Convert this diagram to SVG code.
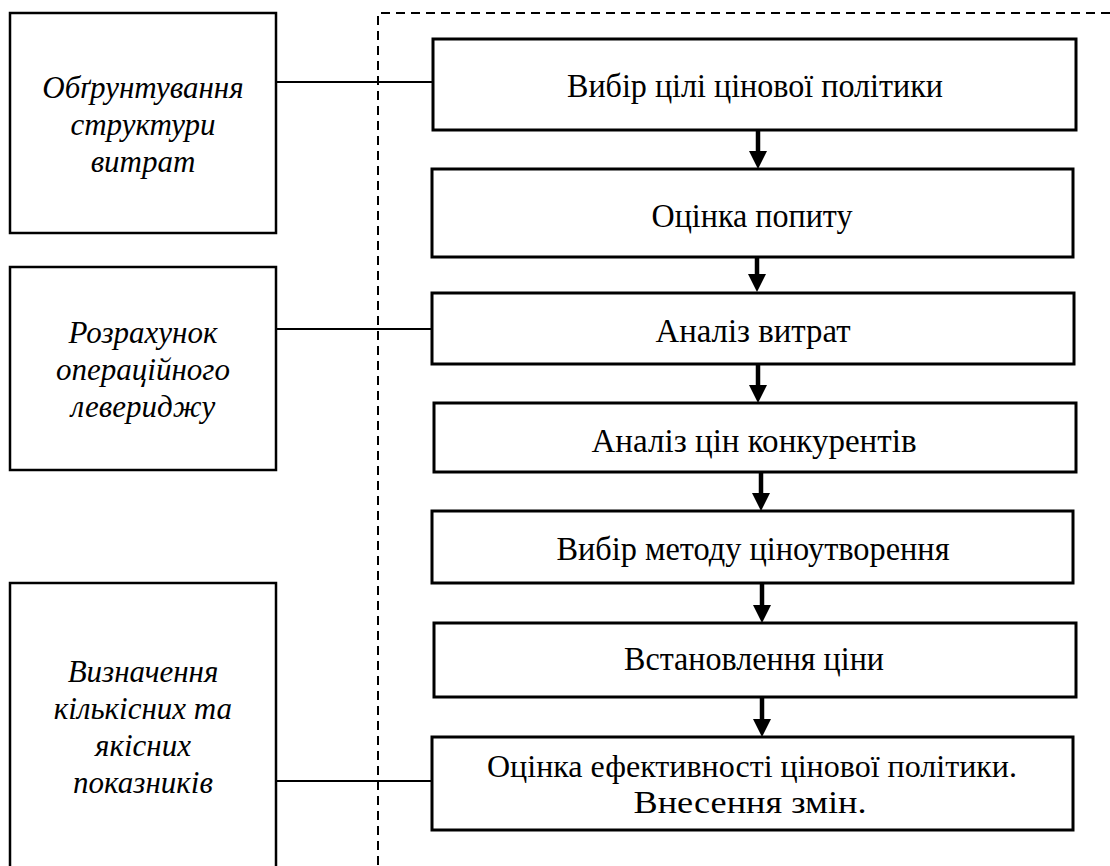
<svg xmlns="http://www.w3.org/2000/svg" width="1110" height="866" viewBox="0 0 1110 866">
<style>
.box{fill:#fff;stroke:#000;stroke-width:3}
.lbox{fill:#fff;stroke:#000;stroke-width:2.5}
.t{font-family:"Liberation Serif","Times New Roman",serif;font-size:34px;fill:#000;text-anchor:middle}
.t2{font-family:"Liberation Serif","Times New Roman",serif;font-size:31px;fill:#000;text-anchor:middle}
.it{font-family:"Liberation Serif","Times New Roman",serif;font-size:31px;font-style:italic;fill:#000;text-anchor:middle}
.ln{stroke:#000;stroke-width:2;fill:none}
.ar{stroke:#000;stroke-width:4.5;fill:none}
.dash{stroke:#000;stroke-width:2;fill:none;stroke-dasharray:9 6}
</style>
<rect width="1110" height="866" fill="#fff"/>
<g id="frame"><path class="dash" d="M378,880 V13 H1120"/></g>
<g id="connectors">
<line class="ln" x1="276" y1="82" x2="433" y2="82"/>
<line class="ln" x1="276" y1="329" x2="432" y2="329"/>
<line class="ln" x1="276" y1="781" x2="432" y2="781"/>
<line class="ar" x1="758" y1="130" x2="758" y2="153"/><polygon points="749,151 767,151 758,169"/>
<line class="ar" x1="757" y1="257" x2="757" y2="276"/><polygon points="748,274 766,274 757,292"/>
<line class="ar" x1="758" y1="364" x2="758" y2="387"/><polygon points="749,385 767,385 758,403"/>
<line class="ar" x1="761" y1="472" x2="761" y2="495"/><polygon points="752,493 770,493 761,511"/>
<line class="ar" x1="762" y1="583" x2="762" y2="607"/><polygon points="753,605 771,605 762,623"/>
<line class="ar" x1="762" y1="697" x2="762" y2="721"/><polygon points="753,719 771,719 762,737"/>
</g>
<g id="l1"><rect class="lbox" x="10" y="13" width="266" height="220"/>
<text class="it" x="143" y="98">Обґрунтування</text><text class="it" x="143" y="135">структури</text><text class="it" x="143" y="172">витрат</text></g>
<g id="l2"><rect class="lbox" x="10" y="267" width="266" height="203"/>
<text class="it" x="143" y="343">Розрахунок</text><text class="it" x="143" y="380">операційного</text><text class="it" x="143" y="417">левериджу</text></g>
<g id="l3"><rect class="lbox" x="10" y="583" width="266" height="300"/>
<text class="it" x="143" y="682">Визначення</text><text class="it" x="143" y="719">кількісних та</text><text class="it" x="143" y="756">якісних</text><text class="it" x="143" y="793">показників</text></g>
<g id="b1"><rect class="box" x="433" y="39" width="643" height="91"/><text class="t" x="755" y="97" textLength="376" lengthAdjust="spacingAndGlyphs">Вибір цілі цінової політики</text></g>
<g id="b2"><rect class="box" x="432" y="169" width="641" height="88"/><text class="t" x="752" y="227" textLength="201" lengthAdjust="spacingAndGlyphs">Оцінка попиту</text></g>
<g id="b3"><rect class="box" x="432" y="293" width="642" height="71"/><text class="t" x="753" y="342" textLength="195" lengthAdjust="spacingAndGlyphs">Аналіз витрат</text></g>
<g id="b4"><rect class="box" x="434" y="403" width="642" height="69"/><text class="t" x="754" y="452" textLength="325" lengthAdjust="spacingAndGlyphs">Аналіз цін конкурентів</text></g>
<g id="b5"><rect class="box" x="432" y="511" width="641" height="72"/><text class="t" x="753" y="560" textLength="393" lengthAdjust="spacingAndGlyphs">Вибір методу ціноутворення</text></g>
<g id="b6"><rect class="box" x="434" y="623" width="642" height="74"/><text class="t" x="754" y="670" textLength="260" lengthAdjust="spacingAndGlyphs">Встановлення ціни</text></g>
<g id="b7"><rect class="box" x="432" y="737" width="641" height="93"/><text class="t2" x="752" y="777" textLength="530" lengthAdjust="spacingAndGlyphs">Оцінка ефективності цінової політики.</text><text class="t2" x="750" y="813" textLength="233" lengthAdjust="spacingAndGlyphs">Внесення змін.</text></g>
</svg>
